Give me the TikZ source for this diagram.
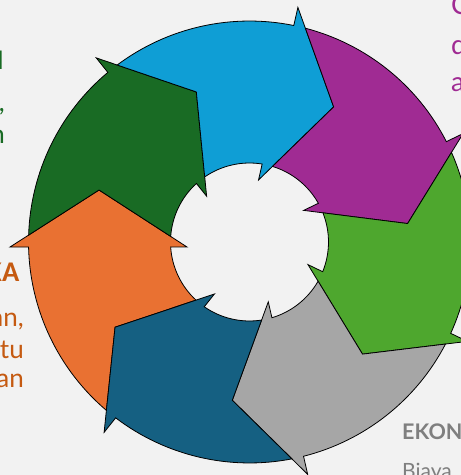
\documentclass[tikz,border=0pt]{standalone}
\usepackage{fontspec}
\setmainfont{Lato}
\newfontfamily\narrowfont{Carlito}
\definecolor{bg}{HTML}{F2F2F2}
\definecolor{segOrange}{HTML}{E97132}
\definecolor{segDarkGreen}{HTML}{196B24}
\definecolor{segBlue}{HTML}{0F9ED5}
\definecolor{segPurple}{HTML}{A02B93}
\definecolor{segGreen}{HTML}{4EA72E}
\definecolor{segGray}{HTML}{A6A6A6}
\definecolor{segTeal}{HTML}{156082}
\definecolor{txtGreen}{HTML}{196B24}
\definecolor{txtOrange}{HTML}{C55A11}
\definecolor{txtPurple}{HTML}{A02B93}
\definecolor{txtGray}{HTML}{7F7F7F}
\tikzset{
  segment/.style={draw=black, line width=0.8pt, line join=miter},
  headtext/.style={inner sep=0pt, font=\narrowfont\fontsize{28.5}{30}\selectfont\bfseries},
  bodytext/.style={inner sep=0pt, font=\fontsize{26}{30}\selectfont},
}
\begin{document}
\begin{tikzpicture}[x=1pt,y=1pt]
\useasboundingbox (0,0) rectangle (461,475);
\fill[bg] (0,0) rectangle (461,475);
\begin{scope}
\clip (0,0) rectangle (461,475);
% seven notched ring segments, each one turned 360/7 degrees clockwise from the last
\foreach \col [count=\k from 0] in {segOrange,segDarkGreen,segBlue,segPurple,segGreen,segGray,segTeal} {
  \filldraw[segment, fill=\col, shift={(249.5,233)}, rotate=-51.4286*\k]
    (181.30:221) -- (181.20:239.55) -- (160.94:159.2) -- (184.57:62.7) -- (183.63:79)
    arc[start angle=183.63, end angle=227.39, radius=79]
    -- (212.37:159.2) -- (229.64:221)
    arc[start angle=229.64, end angle=181.30, radius=221] -- cycle;
}
% side captions, partly outside the frame
\node[headtext, text=txtGreen, anchor=base east] (gA) at (4,405) {I};
\node[bodytext, text=txtGreen, anchor=base east] (gB) at (5,363.5) {,};
\node[bodytext, text=txtGreen, anchor=base east] (gC) at (5,331) {n};
\node[headtext, text=txtOrange, anchor=base east] (oA) at (19.5,193) {KA};
\node[bodytext, text=txtOrange, anchor=base east] (oB) at (24,148) {an,};
\node[bodytext, text=txtOrange, anchor=base east] (oC) at (24,117) {tu};
\node[bodytext, text=txtOrange, anchor=base east] (oD) at (24,87) {an};
\node[bodytext, text=txtPurple, anchor=base west, font=\fontsize{27}{30}\selectfont] (pA) at (451,460) {C};
\node[bodytext, text=txtPurple, anchor=base west, font=\fontsize{27}{30}\selectfont] (pB) at (451,420) {d};
\node[bodytext, text=txtPurple, anchor=base west, font=\fontsize{27}{30}\selectfont] (pC) at (451,383) {a};
\node[inner sep=0pt, text=txtGray, anchor=base west, font=\fontsize{21.5}{26}\selectfont\bfseries] (eA) at (402,35.5) {EKON};
\node[bodytext, text=txtGray, anchor=base west, font=\fontsize{21}{26}\selectfont] (eB) at (402,-3) {Biaya};
\end{scope}
\end{tikzpicture}
\end{document}
